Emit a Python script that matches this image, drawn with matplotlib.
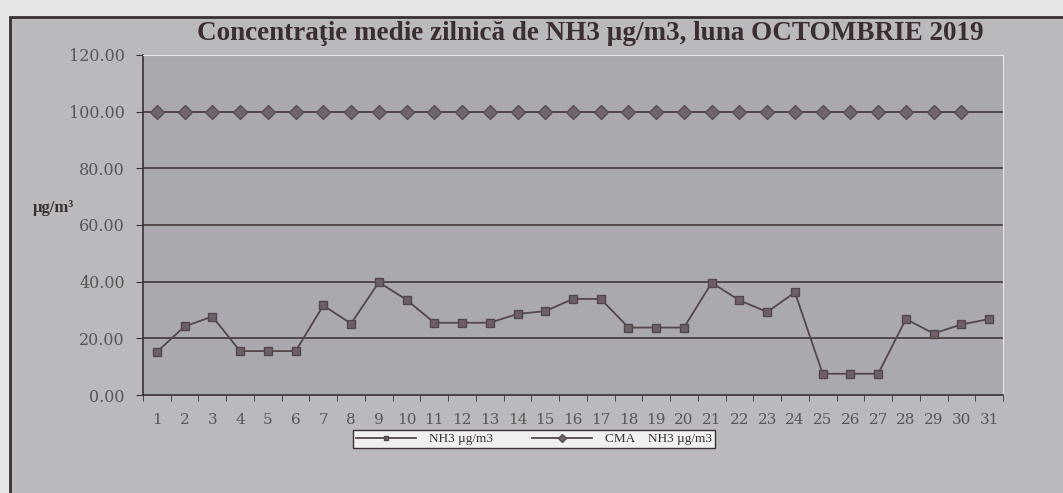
import numpy as np
import matplotlib
matplotlib.use("Agg")
import matplotlib.pyplot as plt
from matplotlib.patches import Rectangle

days = list(range(1, 32))
nh3 = [15.2, 24.2, 27.7, 15.5, 15.5, 15.5, 31.6, 25.2, 39.8, 33.6,
       25.5, 25.5, 25.5, 28.6, 29.6, 33.9, 33.9, 23.8, 23.8, 23.8,
       39.6, 33.4, 29.3, 36.2, 7.5, 7.5, 7.5, 26.8, 21.7, 24.9, 26.8]
cma_days = list(range(1, 31))
cma = [100.0] * 30
yticks = [0, 20, 40, 60, 80, 100, 120]

title = "Concentraţie medie zilnică de NH3 µg/m3, luna OCTOMBRIE 2019"

fig = plt.figure(figsize=(10.63, 4.93), dpi=100)
fig.patch.set_facecolor("#e6e6e8")

# chart area frame (scanned page)
W, H = 1063, 493
fig.patches.append(Rectangle((10 / W, -0.1), 1.1, 1.1 - 17 / H, transform=fig.transFigure,
                             facecolor="#b9b9be", edgecolor="#3a3035", lw=2.0, zorder=-5))

ax = fig.add_axes([143 / W, 1 - 395 / H, 860 / W, 340 / H])
ax.set_zorder(2)
ax.set_facecolor("#a9a9af")

line_col = "#54464d"
ax.plot(days, nh3, color=line_col, lw=1.3, marker="s", ms=6,
        mfc="#6d5f68", mec="#54464d", label="NH3 µg/m3", zorder=3)
ax.plot(cma_days, cma, color=line_col, lw=1.3, marker="D", ms=7,
        mfc="#6f6570", mec="#5a4e56", label="CMA    NH3 µg/m3", zorder=3)

ax.set_xlim(0.5, 31.5)
ax.set_ylim(0, 120)
ax.set_yticks(yticks)
ax.set_yticklabels([f"{v:.2f}" for v in yticks])
ax.set_xticks(days)
ax.set_xticks(np.arange(0.5, 32, 1), minor=True)
ax.tick_params(axis="x", which="major", length=0, pad=13, labelsize=11, labelcolor="#5a5558")
ax.tick_params(axis="x", which="minor", length=4, color="#3a3035", direction="out")
ax.tick_params(axis="y", length=5, color="#3a3035", labelsize=11.5, labelcolor="#5a5558", pad=8)
for lbl in ax.get_xticklabels() + ax.get_yticklabels():
    lbl.set_fontfamily("DejaVu Serif")

for v in yticks[1:-1]:
    ax.axhline(v, color="#4a4045", lw=1.3, zorder=1)

ax.spines["left"].set_color("#3a3035")
ax.spines["bottom"].set_color("#3a3035")
ax.spines["top"].set_color("#e8e8ea")
ax.spines["right"].set_color("#e8e8ea")
ax.spines["left"].set_linewidth(1.2)
ax.spines["bottom"].set_linewidth(1.2)

fig.text(590 / W, 1 - 33 / H, title, ha="center", va="center", fontsize=19.5,
         fontweight="bold", family="Liberation Serif", color="#3a2e32")
fig.text(53 / W, 1 - 208 / H, "µg/m³", ha="center", va="center", fontsize=12,
         fontweight="bold", family="Liberation Serif", color="#3a2e32")

leg = ax.legend(loc="center", bbox_to_anchor=(534 / W, 1 - 439 / H),
                bbox_transform=fig.transFigure, ncol=2, frameon=True, fancybox=False,
                prop={"family": "Liberation Serif", "size": 9.5}, markerscale=0.6,
                handlelength=4.5, columnspacing=3.0, borderpad=0.25,
                handletextpad=1.0)
leg.get_frame().set_facecolor("#f0f0f2")
leg.get_frame().set_edgecolor("#3a3035")
leg.get_frame().set_alpha(1)
for t in leg.get_texts():
    t.set_color("#3a3035")

fig.savefig("out.png", dpi=100, facecolor=fig.get_facecolor())
